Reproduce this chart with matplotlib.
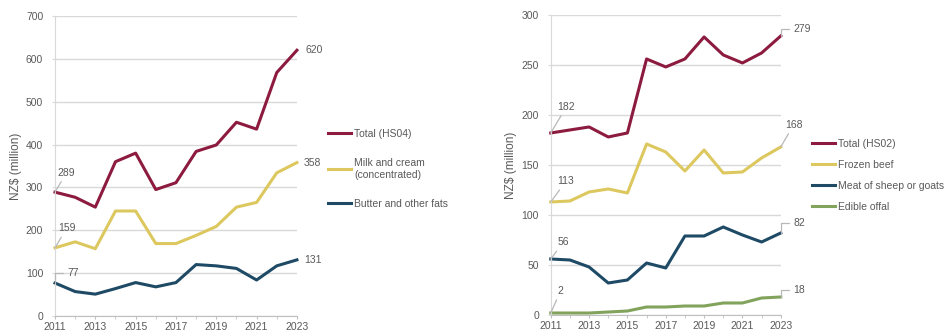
import matplotlib.pyplot as plt

plt.rcParams['font.family'] = ['Liberation Sans', 'DejaVu Sans']

# dados
anos = list(range(2011, 2024))
rotulos_x = [2011, 2013, 2015, 2017, 2019, 2021, 2023]

total_hs04 = [289, 277, 254, 360, 380, 295, 311, 384, 399, 452, 436, 568, 620]
leite_creme = [159, 173, 157, 245, 245, 169, 169, 188, 209, 254, 265, 334, 358]
manteiga = [77, 57, 51, 64, 78, 68, 78, 120, 117, 111, 84, 117, 131]

total_hs02 = [182, 185, 188, 178, 182, 256, 248, 256, 278, 260, 252, 262, 279]
carne_bovina = [113, 114, 123, 126, 122, 171, 163, 144, 165, 142, 143, 157, 168]
ovinos = [56, 55, 48, 32, 35, 52, 47, 79, 79, 88, 80, 73, 82]
miudos = [2, 2, 2, 3, 4, 8, 8, 9, 9, 12, 12, 17, 18]

nomes_esq = ['Total (HS04)', 'Milk and cream\n(concentrated)', 'Butter and other fats']
nomes_dir = ['Total (HS02)', 'Frozen beef', 'Meat of sheep or goats', 'Edible offal']

cores = ['#8C1B3F', '#DCC85E', '#1E4A66', '#82A35C']
cinza = '#595959'
linha_guia = '#B8B8B8'

fig = plt.figure(figsize=(9.45, 3.36), dpi=100)
ax1 = fig.add_axes([0.0582, 0.0595, 0.256, 0.893])
ax2 = fig.add_axes([0.5828, 0.0625, 0.2434, 0.893])


def estilo(ax, ymax, passo):
    ax.set_xlim(2011, 2023)
    ax.set_ylim(0, ymax)
    ax.set_yticks(range(0, ymax + 1, passo))
    ax.set_xticks(rotulos_x)
    ax.set_xticks(anos, minor=True)
    ax.grid(axis='y', color='#D9D9D9', linewidth=1)
    ax.set_axisbelow(True)
    for s in ['top', 'right']:
        ax.spines[s].set_visible(False)
    ax.spines['left'].set_color('#D9D9D9')
    ax.spines['bottom'].set_color('#BFBFBF')
    ax.tick_params(axis='y', length=2.5, color='#D9D9D9', labelsize=7.5,
                   labelcolor=cinza, pad=6)
    ax.tick_params(axis='x', which='both', length=2.5, color='#BFBFBF',
                   labelsize=7.5, labelcolor=cinza, pad=2)
    ax.set_ylabel('NZ$ (million)', fontsize=8.5, color=cinza, labelpad=3)


def rotulo(ax, texto, x, y, dx, dy, estilo_linha=None):
    if estilo_linha is None:
        ax.annotate(texto, (x, y), xytext=(dx, dy), textcoords='offset points',
                    fontsize=7.5, color=cinza, va='center', ha='left',
                    annotation_clip=False)
    else:
        ax.annotate(texto, (x, y), xytext=(dx, dy), textcoords='offset points',
                    fontsize=7.5, color=cinza, va='center', ha='left',
                    annotation_clip=False,
                    arrowprops=dict(arrowstyle='-', color=linha_guia, lw=0.9,
                                    shrinkA=1, shrinkB=0,
                                    connectionstyle=estilo_linha))


# grafico da esquerda
for serie, nome, cor in zip([total_hs04, leite_creme, manteiga], nomes_esq, cores):
    ax1.plot(anos, serie, color=cor, linewidth=2.2, label=nome, clip_on=False)
estilo(ax1, 700, 100)

rotulo(ax1, '289', 2011, total_hs04[0], 2, 14, 'arc3')
rotulo(ax1, '159', 2011, leite_creme[0], 2, 14, 'arc3')
rotulo(ax1, '77', 2011, manteiga[0], 9, 7, 'angle,angleA=0,angleB=90,rad=0')
rotulo(ax1, '620', 2023, total_hs04[-1], 6, 0)
rotulo(ax1, '358', 2023, leite_creme[-1], 5, 0)
rotulo(ax1, '131', 2023, manteiga[-1], 5, 0)

fig.legend(handles=ax1.get_lines(), loc='upper left',
           bbox_to_anchor=(328 / 945, 1 - 129 / 336), frameon=False,
           fontsize=7.5, handlelength=2.2, handletextpad=0.3, borderpad=0,
           borderaxespad=0, labelspacing=1.85, labelcolor=cinza)

# grafico da direita
for serie, nome, cor in zip([total_hs02, carne_bovina, ovinos, miudos], nomes_dir, cores):
    ax2.plot(anos, serie, color=cor, linewidth=2.2, label=nome, clip_on=False)
estilo(ax2, 300, 50)

rotulo(ax2, '182', 2011, total_hs02[0], 5, 19, 'arc3')
rotulo(ax2, '113', 2011, carne_bovina[0], 5, 15, 'arc3')
rotulo(ax2, '56', 2011, ovinos[0], 5, 12, 'arc3')
rotulo(ax2, '2', 2011, miudos[0], 5, 16, 'arc3')
rotulo(ax2, '279', 2023, total_hs02[-1], 9, 5, 'angle,angleA=0,angleB=90,rad=0')
rotulo(ax2, '168', 2023, carne_bovina[-1], 3, 16, 'arc3')
rotulo(ax2, '82', 2023, ovinos[-1], 9, 7, 'angle,angleA=0,angleB=90,rad=0')
rotulo(ax2, '18', 2023, miudos[-1], 9, 5, 'angle,angleA=0,angleB=90,rad=0')

fig.legend(handles=ax2.get_lines(), loc='upper left',
           bbox_to_anchor=(812 / 945, 1 - 139 / 336), frameon=False,
           fontsize=7.5, handlelength=2.2, handletextpad=0.3, borderpad=0,
           borderaxespad=0, labelspacing=1.05, labelcolor=cinza)

fig.savefig('out.png', dpi=100)
